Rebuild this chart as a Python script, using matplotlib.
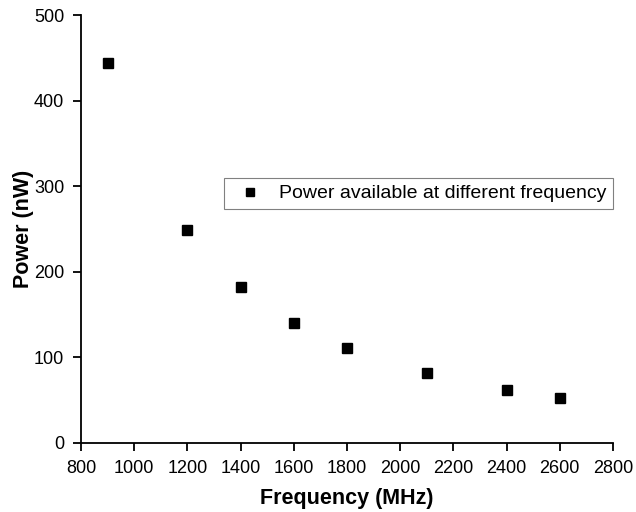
import matplotlib
matplotlib.use("Agg")
import matplotlib.pyplot as plt

plt.rcParams['font.family'] = ['Liberation Sans', 'DejaVu Sans']

freq = [900, 1200, 1400, 1600, 1800, 2100, 2400, 2600]
power = [444, 249, 182, 140, 111, 82, 62, 53]

fig = plt.figure(figsize=(6.36, 5.12), dpi=100)
ax = fig.add_axes([0.1274, 0.1348, 0.8364, 0.8359])

ax.plot(freq, power, 's', color='black', markersize=7, linestyle='none',
        label='Power available at different frequency')

ax.set_xlim(800, 2800)
ax.set_ylim(0, 500)
ax.set_xticks(range(800, 2801, 200))
ax.set_yticks(range(0, 501, 100))
ax.spines['top'].set_visible(False)
ax.spines['right'].set_visible(False)
for s in ['left', 'bottom']:
    ax.spines[s].set_linewidth(1.3)
ax.tick_params(direction='out', length=6, width=1.3, labelsize=13, pad=6)

ax.set_xlabel('Frequency (MHz)', fontsize=15.5, fontweight='bold', labelpad=8)
ax.set_ylabel('Power (nW)', fontsize=15.5, fontweight='bold', labelpad=0)

leg = ax.legend(loc='upper left', bbox_to_anchor=(0.269, 0.619), fontsize=14,
                fancybox=False, edgecolor='gray', framealpha=1, handletextpad=0.45,
                borderpad=0.35, handlelength=2.0, borderaxespad=0, markerscale=0.85)
leg.get_frame().set_linewidth(0.8)

fig.savefig('out.png', dpi=100)
